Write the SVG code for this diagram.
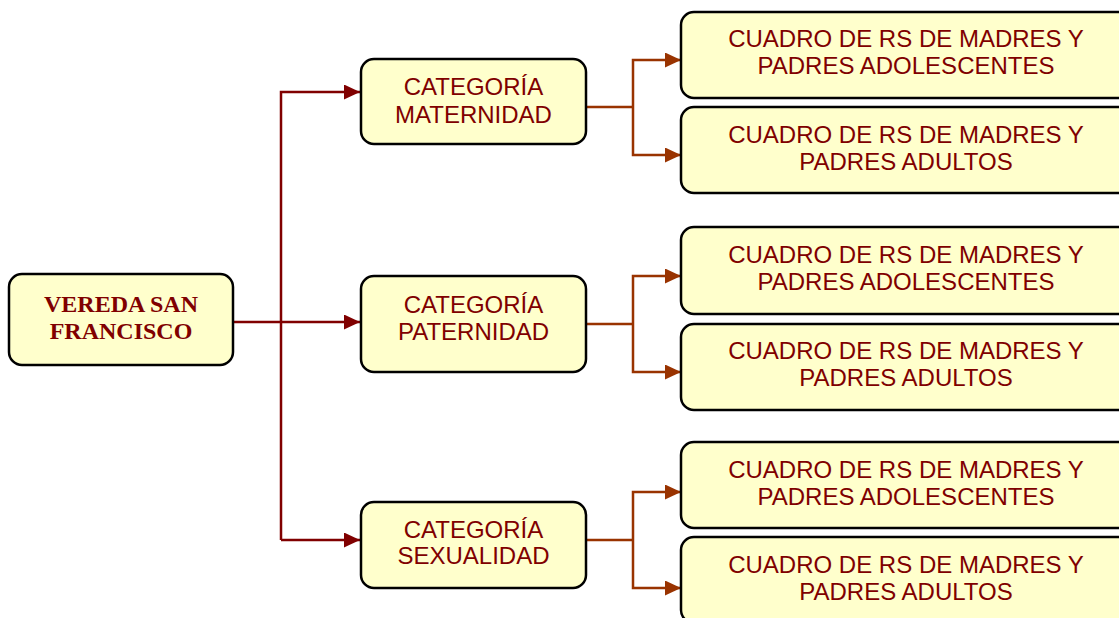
<svg xmlns="http://www.w3.org/2000/svg" width="1119" height="618" viewBox="0 0 1119 618">
<style>
.box{fill:#FFFFCC;stroke:#000;stroke-width:2.5}
.t{font-family:"Liberation Sans",Arial,sans-serif;font-size:24px;fill:#800000;text-anchor:middle}
.r{font-family:"Liberation Serif","Times New Roman",serif;font-size:24px;font-weight:bold;fill:#800000;text-anchor:middle}
.m{fill:none;stroke:#800000;stroke-width:2.5}
.b{fill:none;stroke:#993300;stroke-width:2.5}
</style>
<defs>
<marker id="am" markerWidth="16" markerHeight="15" refX="16" refY="7.5" orient="auto" markerUnits="userSpaceOnUse"><path d="M0,0 L16,7.5 L0,15 z" fill="#800000"/></marker>
<marker id="ab" markerWidth="16" markerHeight="15" refX="16" refY="7.5" orient="auto" markerUnits="userSpaceOnUse"><path d="M0,0 L16,7.5 L0,15 z" fill="#993300"/></marker>
</defs>
<g id="connectors">
<path class="m" d="M233,322 H360" marker-end="url(#am)"/>
<path class="m" d="M281,540 V92 H360" marker-end="url(#am)"/>
<path class="m" d="M281,540 H360" marker-end="url(#am)"/>
<path class="b" d="M586,107 H633"/>
<path class="b" d="M633,107 V60 H681" marker-end="url(#ab)"/>
<path class="b" d="M633,107 V155 H681" marker-end="url(#ab)"/>
<path class="b" d="M586,324 H633"/>
<path class="b" d="M633,324 V276 H681" marker-end="url(#ab)"/>
<path class="b" d="M633,324 V372 H681" marker-end="url(#ab)"/>
<path class="b" d="M586,540 H633"/>
<path class="b" d="M633,540 V492 H681" marker-end="url(#ab)"/>
<path class="b" d="M633,540 V588 H681" marker-end="url(#ab)"/>
</g>
<g id="root">
<rect class="box" x="9" y="274" width="224" height="91" rx="13"/>
<text class="r" x="121" y="312">VEREDA SAN</text>
<text class="r" x="121" y="339">FRANCISCO</text>
</g>
<g id="cat-maternidad">
<rect class="box" x="361" y="59" width="225" height="85" rx="13"/>
<text class="t" x="473.5" y="95">CATEGORÍA</text>
<text class="t" x="473.5" y="123">MATERNIDAD</text>
</g>
<g id="cat-paternidad">
<rect class="box" x="361" y="276" width="225" height="96" rx="13"/>
<text class="t" x="473.5" y="313">CATEGORÍA</text>
<text class="t" x="473.5" y="340">PATERNIDAD</text>
</g>
<g id="cat-sexualidad">
<rect class="box" x="361" y="502" width="225" height="86" rx="13"/>
<text class="t" x="473.5" y="538">CATEGORÍA</text>
<text class="t" x="473.5" y="564">SEXUALIDAD</text>
</g>
<g id="leaf-1a">
<rect class="box" x="681" y="12" width="450" height="86" rx="13"/>
<text class="t" x="906" y="47">CUADRO DE RS DE MADRES Y</text>
<text class="t" x="906" y="74">PADRES ADOLESCENTES</text>
</g>
<g id="leaf-1b">
<rect class="box" x="681" y="107" width="450" height="86" rx="13"/>
<text class="t" x="906" y="143">CUADRO DE RS DE MADRES Y</text>
<text class="t" x="906" y="170">PADRES ADULTOS</text>
</g>
<g id="leaf-2a">
<rect class="box" x="681" y="227" width="450" height="87" rx="13"/>
<text class="t" x="906" y="263">CUADRO DE RS DE MADRES Y</text>
<text class="t" x="906" y="290">PADRES ADOLESCENTES</text>
</g>
<g id="leaf-2b">
<rect class="box" x="681" y="324" width="450" height="86" rx="13"/>
<text class="t" x="906" y="359">CUADRO DE RS DE MADRES Y</text>
<text class="t" x="906" y="386">PADRES ADULTOS</text>
</g>
<g id="leaf-3a">
<rect class="box" x="681" y="442" width="450" height="86" rx="13"/>
<text class="t" x="906" y="478">CUADRO DE RS DE MADRES Y</text>
<text class="t" x="906" y="505">PADRES ADOLESCENTES</text>
</g>
<g id="leaf-3b">
<rect class="box" x="681" y="537" width="450" height="86" rx="13"/>
<text class="t" x="906" y="573">CUADRO DE RS DE MADRES Y</text>
<text class="t" x="906" y="600">PADRES ADULTOS</text>
</g>
</svg>
